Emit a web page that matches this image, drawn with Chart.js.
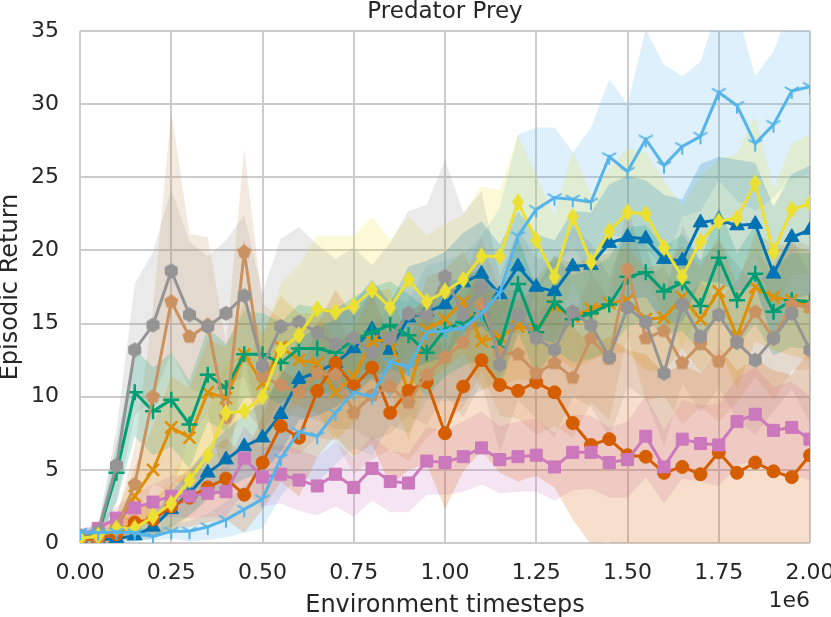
<!DOCTYPE html>
<html>
<head>
<meta charset="utf-8">
<script src="https://cdn.jsdelivr.net/npm/chart.js@4.4.1/dist/chart.umd.min.js"></script>
<style>
  html, body { margin: 0; padding: 0; background: #ffffff; }
  canvas { display: block; }
</style>
</head>
<body>
<canvas id="chart" width="831" height="617"></canvas>
<script>
// timesteps in units of 1e6
const steps = [0.00, 0.05, 0.10, 0.15, 0.20, 0.25, 0.30, 0.35, 0.40, 0.45,
               0.50, 0.55, 0.60, 0.65, 0.70, 0.75, 0.80, 0.85, 0.90, 0.95,
               1.00, 1.05, 1.10, 1.15, 1.20, 1.25, 1.30, 1.35, 1.40, 1.45,
               1.50, 1.55, 1.60, 1.65, 1.70, 1.75, 1.80, 1.85, 1.90, 1.95, 2.00];
const xTicks = [0, 0.25, 0.5, 0.75, 1.0, 1.25, 1.5, 1.75, 2.0];
const yTicks = [0, 5, 10, 15, 20, 25, 30, 35];

// mean episodic return per series
const blueTri = [0.3, 0.2, 0.3, 0.5, 1.1, 2.3, 3.4, 4.8, 5.7, 6.6, 7.2, 8.8, 11.2, 11.7, 12.3, 13.3, 14.6, 13.2, 15.4, 15.8,
  16.3, 17.8, 18.4, 17.0, 18.9, 17.5, 17.2, 18.9, 19.0, 20.5, 20.9, 20.8, 19.4, 19.3, 21.9, 22.1, 21.7, 21.8, 18.4, 20.9, 21.4];
const orangeX = [0.2, 0.3, 1.0, 3.2, 5.0, 7.9, 7.2, 10.3, 9.9, 12.9, 10.9, 13.4, 12.5, 12.3, 10.3, 11.4, 13.8, 13.9, 10.3, 14.6,
  15.3, 16.5, 13.8, 14.1, 14.8, 14.6, 16.2, 15.5, 16.0, 16.4, 16.6, 15.3, 15.4, 16.8, 15.3, 17.2, 14.1, 17.5, 16.8, 16.6, 16.2];
const greenPlus = [0.4, 0.6, 4.8, 10.3, 9.0, 9.8, 8.1, 11.5, 10.6, 12.9, 12.9, 12.3, 13.3, 13.3, 13.0, 13.9, 14.4, 14.9, 14.2, 13.0,
  14.6, 15.1, 15.7, 13.4, 17.7, 14.4, 16.5, 15.3, 15.7, 16.3, 18.2, 18.5, 17.2, 17.8, 16.2, 19.5, 16.6, 18.4, 15.8, 16.6, 16.5];
const redCircle = [0.2, 0.3, 0.6, 1.4, 1.6, 2.5, 3.1, 3.8, 4.4, 3.3, 5.5, 8.0, 7.2, 10.4, 12.3, 10.7, 12.0, 8.9, 10.4, 11.0,
  7.5, 10.7, 12.5, 10.8, 10.4, 11.0, 10.3, 8.2, 6.7, 7.1, 6.0, 5.9, 4.8, 5.2, 4.7, 6.2, 4.8, 5.5, 4.9, 4.5, 6.0];
const pinkSquare = [0.5, 1.0, 1.7, 2.4, 2.8, 3.2, 3.2, 3.4, 3.5, 5.8, 4.5, 4.7, 4.3, 3.9, 4.7, 3.8, 5.1, 4.2, 4.1, 5.6,
  5.5, 5.9, 6.5, 5.7, 5.9, 6.0, 5.2, 6.2, 6.2, 5.5, 5.7, 7.3, 5.2, 7.1, 6.8, 6.7, 8.3, 8.8, 7.7, 7.9, 7.1];
const brownPent = [0.3, 0.4, 1.0, 4.0, 10.0, 16.5, 14.1, 14.9, 8.6, 19.9, 11.4, 10.8, 10.3, 11.6, 11.5, 8.9, 10.1, 10.7, 9.6, 11.5,
  12.7, 13.7, 16.3, 13.0, 12.9, 11.6, 12.3, 11.3, 14.0, 12.6, 18.7, 14.0, 14.5, 12.3, 13.6, 12.4, 13.8, 15.8, 14.0, 16.3, 16.1];
const grayHex = [0.5, 0.8, 5.3, 13.2, 14.9, 18.6, 15.6, 14.8, 15.7, 16.9, 12.1, 14.8, 15.1, 14.4, 13.6, 14.0, 13.0, 14.0, 15.7, 15.6,
  18.2, 15.6, 17.5, 12.2, 15.6, 14.0, 13.2, 15.8, 14.9, 12.7, 16.1, 15.1, 11.6, 16.3, 14.1, 15.6, 13.7, 12.5, 14.0, 15.7, 13.2];
const yellowDiam = [0.3, 0.5, 1.0, 1.0, 1.8, 2.7, 4.3, 6.0, 8.9, 9.0, 10.0, 13.2, 14.2, 16.0, 15.8, 16.2, 17.3, 16.1, 18.0, 16.5,
  17.2, 18.0, 19.6, 19.6, 23.3, 20.7, 18.2, 22.3, 19.2, 21.3, 22.6, 22.5, 20.2, 18.2, 20.6, 22.0, 22.2, 24.6, 19.9, 22.8, 23.2];
const cyanTri = [0.75, 0.7, 0.75, 0.7, 0.45, 0.8, 0.8, 1.1, 1.6, 2.3, 3.0, 5.8, 7.6, 7.3, 8.9, 10.3, 10.0, 12.4, 12.0, 14.4,
  14.5, 14.7, 15.7, 17.1, 21.0, 22.8, 23.6, 23.5, 23.3, 26.4, 25.4, 27.6, 25.8, 27.1, 27.8, 30.8, 29.9, 27.3, 28.6, 30.9, 31.2];

// half-width of the shaded band per series
const blueTriSd = [0.2, 0.2, 0.3, 0.4, 0.8, 1.2, 1.5, 1.8, 2.0, 2.2, 2.4, 2.6, 2.8, 3.0, 3.0, 3.2, 3.4, 3.2, 3.5, 3.5,
  3.6, 3.4, 3.6, 3.4, 3.8, 3.6, 3.5, 3.8, 3.6, 4.0, 4.2, 4.0, 4.4, 4.2, 4.0, 4.3, 4.5, 4.2, 4.6, 4.3, 4.4];
const orangeXSd = [0.2, 0.4, 1.0, 2.0, 3.0, 3.5, 3.4, 3.6, 3.5, 3.6, 3.4, 3.5, 3.2, 3.4, 3.3, 3.2, 3.4, 3.5, 3.3, 3.6,
  3.4, 3.5, 3.3, 3.4, 3.6, 3.5, 3.4, 3.6, 3.5, 3.4, 3.6, 3.5, 3.7, 3.5, 3.6, 3.8, 3.5, 3.7, 3.6, 3.8, 3.7];
const greenPlusSd = [0.3, 0.5, 2.0, 3.0, 3.0, 3.2, 3.0, 3.2, 3.0, 3.0, 2.8, 2.8, 3.0, 2.8, 3.0, 2.9, 3.1, 3.0, 2.8, 3.0,
  3.2, 3.0, 3.1, 2.9, 3.3, 3.0, 3.2, 3.0, 3.1, 3.2, 3.4, 3.2, 3.0, 3.3, 3.1, 3.5, 3.2, 3.4, 3.0, 3.2, 3.3];
const redCircleSd = [0.2, 0.3, 0.6, 1.0, 1.2, 1.6, 2.0, 2.4, 2.8, 2.6, 3.2, 3.8, 4.0, 4.5, 5.0, 4.8, 5.2, 5.0, 5.4, 5.6,
  5.2, 5.8, 6.2, 6.0, 6.2, 6.4, 6.5, 6.6, 6.8, 7.0, 7.2, 7.0, 6.8, 7.0, 6.9, 7.2, 7.0, 7.1, 6.9, 7.0, 7.2];
const pinkSquareSd = [0.3, 0.5, 0.8, 1.0, 1.2, 1.4, 1.5, 1.6, 1.7, 2.2, 2.0, 2.0, 2.1, 2.0, 2.2, 2.0, 2.2, 2.1, 2.0, 2.3,
  2.2, 2.4, 2.5, 2.3, 2.4, 2.5, 2.3, 2.6, 2.5, 2.4, 2.6, 2.8, 2.5, 2.7, 2.6, 2.8, 3.0, 3.2, 3.0, 3.1, 2.9];
const brownPentSd = [0.2, 0.3, 0.8, 2.5, 6.0, 13.0, 7.0, 6.0, 5.0, 7.0, 5.0, 4.5, 4.2, 4.4, 4.5, 4.2, 4.4, 4.3, 4.0, 4.3,
  4.5, 4.4, 4.6, 4.3, 4.4, 4.2, 4.3, 4.1, 4.4, 4.2, 4.5, 4.3, 4.4, 4.2, 4.3, 4.1, 4.2, 4.4, 4.3, 4.5, 4.2];
const grayHexSd = [0.3, 0.5, 2.5, 4.5, 5.0, 5.6, 5.0, 4.8, 5.0, 5.5, 5.0, 6.0, 6.5, 6.0, 5.8, 6.2, 6.0, 6.5, 7.0, 7.5,
  8.0, 7.0, 6.5, 6.0, 5.8, 5.5, 6.0, 5.8, 5.6, 5.5, 5.4, 5.2, 5.0, 5.4, 5.2, 5.0, 5.3, 5.1, 5.0, 5.2, 5.0];
const yellowDiamSd = [0.2, 0.4, 0.6, 0.8, 1.2, 1.8, 2.5, 3.0, 3.5, 3.8, 4.0, 4.5, 4.8, 5.0, 5.2, 4.8, 5.0, 4.6, 4.3, 4.5,
  4.6, 4.4, 4.8, 4.5, 4.6, 4.4, 4.2, 4.5, 4.6, 4.3, 4.4, 4.2, 4.6, 4.8, 4.5, 4.2, 4.4, 4.6, 4.3, 4.5, 4.8];
const cyanTriSd = [0.3, 0.3, 0.3, 0.3, 0.3, 0.5, 0.7, 0.9, 1.2, 1.6, 2.0, 2.6, 3.0, 3.2, 3.5, 3.8, 4.0, 4.3, 4.5, 4.6,
  4.8, 5.0, 5.3, 5.8, 6.9, 5.6, 4.8, 3.2, 5.1, 5.3, 4.6, 7.5, 6.9, 4.8, 5.1, 6.0, 6.5, 4.6, 5.0, 6.0, 6.0];

// --- marker images for shapes Chart.js doesn't have ---
function markerCanvas(w, h, draw) {
  const c = document.createElement('canvas');
  c.width = w; c.height = h;
  const g = c.getContext('2d');
  draw(g, w / 2, h / 2);
  return c;
}
function polygon(color, n, r, rot) {
  const s = Math.ceil(r * 2 + 2);
  return markerCanvas(s, s, (g, cx, cy) => {
    g.beginPath();
    for (let k = 0; k < n; k++) {
      const a = rot + k * 2 * Math.PI / n;
      const px = cx + r * Math.cos(a), py = cy + r * Math.sin(a);
      k === 0 ? g.moveTo(px, py) : g.lineTo(px, py);
    }
    g.closePath();
    g.fillStyle = color;
    g.fill();
  });
}
function thinDiamond(color) {
  return markerCanvas(12, 18, (g, cx, cy) => {
    g.beginPath();
    g.moveTo(cx, 0); g.lineTo(12, cy); g.lineTo(cx, 18); g.lineTo(0, cy);
    g.closePath();
    g.fillStyle = color;
    g.fill();
  });
}
function triDown(color) {
  return markerCanvas(18, 18, (g, cx, cy) => {
    g.strokeStyle = color;
    g.lineWidth = 2;
    g.beginPath();
    [90, 210, 330].forEach(d => {
      const a = d * Math.PI / 180;
      g.moveTo(cx, cy);
      g.lineTo(cx + 8 * Math.cos(a), cy + 8 * Math.sin(a));
    });
    g.stroke();
  });
}

const series = [
  // plotted first = drawn lowest
  { name: 'blue', data: blueTri, sd: blueTriSd, color: '#0173B2', style: 'triangle', radius: 8.5, bw: 1 },
  { name: 'orange', data: orangeX, sd: orangeXSd, color: '#DE8F05', style: 'crossRot', radius: 8.5, bw: 2.5 },
  { name: 'green', data: greenPlus, sd: greenPlusSd, color: '#029E73', style: 'cross', radius: 8, bw: 2.5 },
  { name: 'red', data: redCircle, sd: redCircleSd, color: '#D55E00', style: 'circle', radius: 6.5, bw: 1 },
  { name: 'pink', data: pinkSquare, sd: pinkSquareSd, color: '#CC78BC', style: 'rect', radius: 8.5, bw: 1 },
  { name: 'brown', data: brownPent, sd: brownPentSd, color: '#CA9161', style: polygon('#CA9161', 5, 7.5, -Math.PI / 2), radius: 8, bw: 0 },
  { name: 'gray', data: grayHex, sd: grayHexSd, color: '#949494', style: polygon('#949494', 6, 7.5, -Math.PI / 2), radius: 8, bw: 0 },
  { name: 'yellow', data: yellowDiam, sd: yellowDiamSd, color: '#ECE133', style: thinDiamond('#ECE133'), radius: 9, bw: 0 },
  { name: 'cyan', data: cyanTri, sd: cyanTriSd, color: '#56B4E9', style: triDown('#56B4E9'), radius: 9, bw: 0 }
];

function rgba(hex, a) {
  const n = parseInt(hex.slice(1), 16);
  return `rgba(${(n >> 16) & 255}, ${(n >> 8) & 255}, ${n & 255}, ${a})`;
}
const pts = arr => steps.map((x, i) => ({ x: x, y: arr[i] }));

const datasets = [];
// mean lines first (lower order = drawn on top)
series.forEach((s, k) => {
  datasets.push({
    label: s.name,
    data: pts(s.data),
    borderColor: s.color,
    backgroundColor: s.color,
    borderWidth: 3,
    pointStyle: s.style,
    pointRadius: s.radius,
    pointBorderWidth: s.bw,
    pointBorderColor: s.color,
    pointBackgroundColor: s.color,
    fill: false,
    tension: 0,
    order: 20 - k
  });
});
// shaded bands: upper fills down to the lower dataset right after it
series.forEach(s => {
  datasets.push({
    label: s.name + ' upper',
    data: pts(s.data.map((v, i) => v + s.sd[i])),
    borderWidth: 0,
    pointRadius: 0,
    backgroundColor: rgba(s.color, 0.2),
    fill: '+1',
    order: 100
  });
  datasets.push({
    label: s.name + ' lower',
    data: pts(s.data.map((v, i) => v - s.sd[i])),
    borderWidth: 0,
    pointRadius: 0,
    fill: false,
    order: 100
  });
});

const textColor = '#262626';
const fontFamily = '"DejaVu Sans", sans-serif';

const labelsPlugin = {
  id: 'labels',
  afterDraw(chart) {
    const ctx = chart.ctx;
    const a = chart.chartArea;
    const cx = (a.left + a.right) / 2;
    ctx.save();
    ctx.fillStyle = textColor;
    ctx.textBaseline = 'alphabetic';
    ctx.textAlign = 'center';
    ctx.font = '23px ' + fontFamily;
    ctx.fillText('Predator Prey', cx, 18);
    ctx.font = '24px ' + fontFamily;
    ctx.fillText('Environment timesteps', cx, 612);
    ctx.textAlign = 'right';
    ctx.font = '22px ' + fontFamily;
    ctx.fillText('1e6', a.right, 607);
    ctx.translate(17, (a.top + a.bottom) / 2);
    ctx.rotate(-Math.PI / 2);
    ctx.textAlign = 'center';
    ctx.font = '24px ' + fontFamily;
    ctx.fillText('Episodic Return', 0, 0);
    ctx.restore();
  }
};

new Chart(document.getElementById('chart'), {
  type: 'line',
  data: { datasets: datasets },
  options: {
    responsive: false,
    animation: false,
    layout: { padding: { top: 31, right: 21, left: 0, bottom: 0 } },
    plugins: {
      legend: { display: false },
      tooltip: { enabled: false },
      filler: { propagate: false }
    },
    scales: {
      x: {
        type: 'linear',
        min: 0,
        max: 2,
        afterBuildTicks: scale => { scale.ticks = xTicks.map(v => ({ value: v })); },
        afterFit: scale => { scale.height = 74; scale.paddingLeft = 0; scale.paddingRight = 0; },
        grid: { color: '#cccccc', lineWidth: 2, drawTicks: false },
        border: { display: false },
        ticks: {
          color: textColor,
          padding: 17,
          maxRotation: 0,
          font: { family: fontFamily, size: 22 },
          callback: v => v.toFixed(2)
        }
      },
      y: {
        min: 0,
        max: 35,
        afterBuildTicks: scale => { scale.ticks = yTicks.map(v => ({ value: v })); },
        afterFit: scale => { scale.width = 80; scale.paddingTop = 0; scale.paddingBottom = 0; },
        grid: { color: '#cccccc', lineWidth: 2, drawTicks: false },
        border: { display: false },
        ticks: {
          color: textColor,
          padding: 21,
          font: { family: fontFamily, size: 22 }
        }
      }
    }
  },
  plugins: [labelsPlugin]
});
</script>
</body>
</html>
